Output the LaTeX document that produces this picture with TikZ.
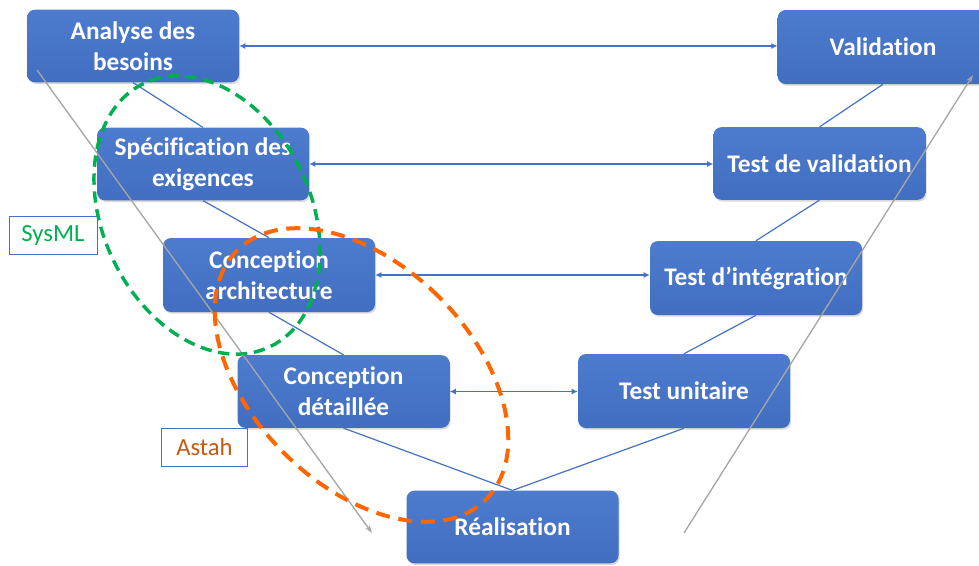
\documentclass[tikz,border=0pt]{standalone}
\usepackage{fontspec}
\setmainfont[RawFeature={-liga;-dlig}]{Carlito}
\usetikzlibrary{shadows,arrows.meta}
\definecolor{boxblue}{HTML}{4472C4}
\definecolor{boxtop}{HTML}{4D7BCE}
\definecolor{boxbot}{HTML}{416EC0}
\definecolor{sysgreen}{HTML}{00B050}
\definecolor{astahorange}{HTML}{FF6600}
\definecolor{astahtext}{HTML}{C55A11}
\definecolor{guidegray}{HTML}{A6A6A6}
\begin{document}
\begin{tikzpicture}[x=0.75pt,y=-0.75pt,
  phase/.style={draw=none, top color=boxtop, bottom color=boxbot, rounded corners=6pt,
    text=white, font=\bfseries\fontsize{19}{23}\selectfont, align=center,
    minimum width=159pt, minimum height=54.5pt, inner sep=0pt,
    drop shadow={shadow xshift=0.9pt, shadow yshift=-1.3pt, opacity=0.3}},
  vline/.style={boxblue, line width=0.9pt},
  harrow/.style={boxblue, line width=0.9pt, {Latex[length=4.5pt,width=4.5pt]}-{Latex[length=4.5pt,width=4.5pt]}},
  garrow/.style={guidegray, line width=1pt, -{Stealth[length=6pt,width=4pt]}},
  tool/.style={draw=boxblue, line width=0.6pt, minimum height=28.5pt, inner sep=0pt,
    font=\fontsize{18.5}{22}\selectfont},
  greenring/.style={sysgreen, line width=2.6pt, dash pattern=on 8.5pt off 5pt},
  orangering/.style={astahorange, line width=3pt, dash pattern=on 10.5pt off 6.5pt},
]
\useasboundingbox (0,0) rectangle (979,565);

% phases
\node[phase] (A) at (133,46) {Analyse des\\besoins};
\node[phase, minimum width=158pt, minimum height=55.5pt] (V) at (883,47) {Validation};
\node[phase] (S) at (203,164) {Spécification des\\exigences};
\node[phase] (TV) at (819.5,163.5) {Test de validation};
\node[phase, minimum height=55.5pt] (CA) at (269,275) {Conception\\architecture};
\node[phase, minimum height=55.5pt] (TI) at (756,278) {Test d’intégration};
\node[phase] (CD) at (343.5,391.5) {Conception\\détaillée};
\node[phase, minimum height=55.5pt] (TU) at (684,391) {Test unitaire};
\node[phase] (R) at (512.5,527) {Réalisation};

% V connectors
\draw[vline] (A.south) -- (S.north);
\draw[vline] (S.south) -- (CA.north);
\draw[vline] (CA.south) -- (CD.north);
\draw[vline] (CD.south) -- (R.north);
\draw[vline] (R.north) -- (TU.south);
\draw[vline] (TU.north) -- (TI.south);
\draw[vline] (TI.north) -- (TV.south);
\draw[vline] (TV.north) -- (V.south);

% horizontal double arrows
\draw[harrow] (A.east) -- (A.east -| V.west);
\draw[harrow] (S.east) -- (S.east -| TV.west);
\draw[harrow] (CA.east) -- (CA.east -| TI.west);
\draw[harrow] (CD.east) -- (CD.east -| TU.west);

% gray guide arrows
\coordinate (g1s) at (37,70);
\coordinate (g1e) at (372,533);
\coordinate (g2s) at (684,533);
\coordinate (g2e) at (973,75);
\draw[garrow] (g1s) -- (g1e);
\draw[garrow] (g2s) -- (g2e);

% tool labels
\node[tool, minimum width=66pt, text=sysgreen] (sysml) at (53,235) {SysML};
\node[tool, minimum width=64pt, text=astahtext] (astah) at (204.5,447) {Astah};

% dashed rings
\draw[greenring, rotate around={25.6:(207,215)}] (207,215) ellipse [x radius=78pt, y radius=109.5pt];
\draw[orangering, rotate around={45:(361.5,375)}] (361.5,375) ellipse [x radius=82.5pt, y radius=132pt];
\end{tikzpicture}
\end{document}
